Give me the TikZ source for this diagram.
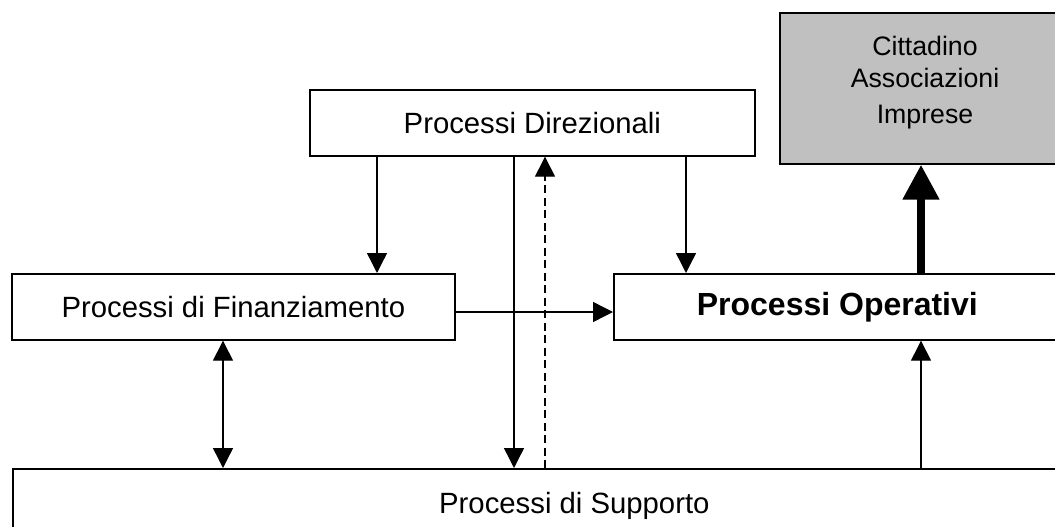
\documentclass[tikz,border=0pt]{standalone}
\usepackage{fontspec}
\setmainfont{Liberation Sans}
\usetikzlibrary{arrows.meta}
\definecolor{boxgray}{RGB}{192,192,192}
\begin{document}
\begin{tikzpicture}[x=1pt,y=1pt,
  procbox/.style={draw, line width=1.7pt, rectangle, anchor=north west, inner sep=0pt,
    font=\fontsize{29.3}{34}\selectfont},
  conn/.style={line width=1.4pt, -{Triangle[width=20pt,length=20pt]}},
  both/.style={line width=1.4pt, {Triangle[width=20pt,length=20pt]}-{Triangle[width=20pt,length=20pt]}},
  dashconn/.style={conn, dash pattern=on 8pt off 4.5pt},
  thick/.style={line width=8pt, -{Triangle[width=35pt,length=35pt]}}]
\useasboundingbox (0,0) rectangle (1055,-527);
\clip (0,0) rectangle (1055,-527);

% boxes
\node[procbox, minimum width=445pt, minimum height=66pt] (dir) at (309,-89) {Processi Direzionali};
\node[procbox, minimum width=443pt, minimum height=66pt] (fin) at (11,-273) {Processi di Finanziamento};
\node[procbox, minimum width=447pt, minimum height=66pt,
  font=\fontsize{32}{36}\selectfont\bfseries] (op) at (613,-273) {Processi Operativi};
\node[procbox, minimum width=1123pt, minimum height=74pt] (sup) at (12,-468) {Processi di Supporto};
\node[procbox, fill=boxgray, minimum width=292pt, minimum height=151pt] (cit) at (779,-12) {};
\node[align=center, inner sep=0pt, font=\fontsize{26.7}{32}\selectfont] (citt) at (925,-83)
  {Cittadino\\Associazioni\\[4pt]Imprese};

% x positions of the vertical connectors
\coordinate (xa) at (377,0);
\coordinate (xb) at (514,0);
\coordinate (xc) at (545,0);
\coordinate (xd) at (686,0);
\coordinate (xe) at (223,0);
\coordinate (xf) at (921,0);
\coordinate (yh) at (0,-312);

% connectors
\draw[conn] (dir.south -| xa) -- (fin.north -| xa);
\draw[conn] (dir.south -| xd) -- (op.north -| xd);
\draw[conn] (dir.south -| xb) -- (sup.north -| xb);
\draw[dashconn] (sup.north -| xc) -- (dir.south -| xc);
\draw[conn] (fin.east |- yh) -- (op.west |- yh);
\draw[both] (fin.south -| xe) -- (sup.north -| xe);
\draw[conn] (sup.north -| xf) -- (op.south -| xf);
\draw[thick] (op.north -| xf) -- (cit.south -| xf);
\end{tikzpicture}
\end{document}
